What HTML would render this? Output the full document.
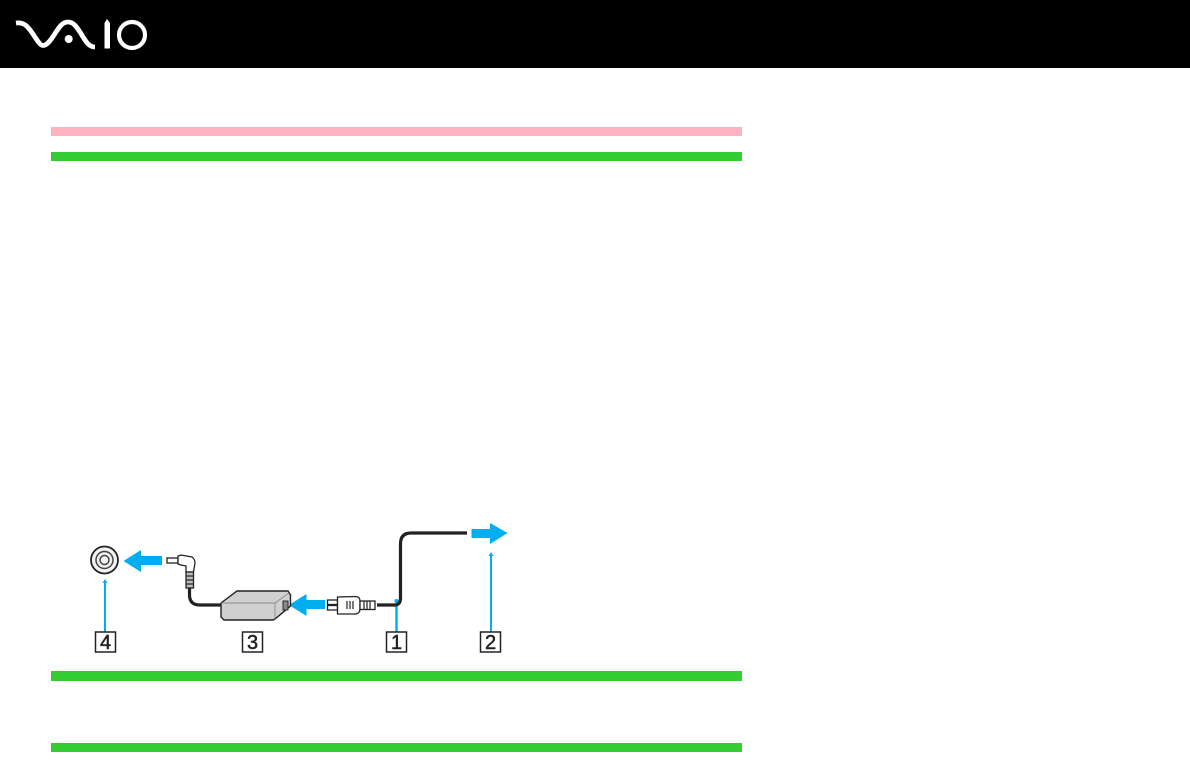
<!DOCTYPE html>
<html>
<head>
<meta charset="utf-8">
<style>
html,body{margin:0;padding:0;background:#fff;}
body{width:1190px;height:767px;overflow:hidden;position:relative;}
svg{position:absolute;left:0;top:0;}
text{font-family:"Liberation Sans",sans-serif;font-size:20px;fill:#222;stroke:#222;stroke-width:0.5px;text-anchor:middle;}
</style>
</head>
<body>
<svg width="1190" height="767" viewBox="0 0 1190 767" xmlns="http://www.w3.org/2000/svg">
<rect x="0" y="0" width="1190" height="68" fill="#000"/>
<!-- logo -->
<path d="M16 23 C25 22 28 27 33 34 C37 40 40 45.500 43 45.500 C47 45.500 51 40 56 32 C60 26 63 22 68 22 C73 22 76 26 80 32 C85 40 88 47 95 47" fill="none" stroke="#fff" stroke-width="4.800"/>
<circle cx="68.700" cy="39" r="4" fill="#fff"/>
<path d="M107 19 L110 23 L110 48.500 L104.500 48.500 L104.500 23 Z" fill="#fff"/>
<circle cx="132" cy="35" r="13" fill="none" stroke="#fff" stroke-width="4.200"/>
<!-- bars -->
<rect x="51" y="127" width="691" height="9" fill="#ffb3c1"/>
<rect x="51" y="152" width="691" height="9" fill="#33cc33"/>
<rect x="51" y="671" width="691" height="10" fill="#33cc33"/>
<rect x="51" y="743" width="691" height="9" fill="#33cc33"/>
<!-- jack -->
<circle cx="104.500" cy="560" r="13.500" fill="#f2f2f2" stroke="#222" stroke-width="1.800"/>
<circle cx="104.500" cy="560" r="8.500" fill="none" stroke="#444" stroke-width="1.500"/>
<circle cx="104.500" cy="560" r="4.500" fill="none" stroke="#444" stroke-width="1.500"/>
<!-- blue arrows -->
<path d="M123.500 561 L141 550 L141 556 L162 556 L162 565 L141 565 L141 572 Z" fill="#00aeef"/>
<path d="M289 605 L306.500 594 L306.500 600 L325 600 L325 609 L306.500 609 L306.500 616 Z" fill="#00aeef"/>
<path d="M507.500 533 L490 523 L490 529 L471.500 529 L471.500 538 L490 538 L490 544 Z" fill="#00aeef"/>
<!-- leader lines -->
<g stroke="#00aeef" stroke-width="2" fill="#00aeef">
<line x1="105" y1="582" x2="105" y2="632"/>
<line x1="491" y1="555" x2="491" y2="632"/>
<line x1="396.500" y1="601" x2="396.500" y2="632" stroke-width="2.400"/>
<path d="M105 579 L102.500 583 L107.500 583 Z" stroke="none"/>
<path d="M491 552 L488.500 556 L493.500 556 Z" stroke="none"/>
<circle cx="396.500" cy="601" r="2" stroke="none"/>
</g>
<!-- cables -->
<path d="M467 533 L411 533 Q400.500 533 400.500 544 L400.500 598 Q400.500 604 396 605 L377 605" fill="none" stroke="#222" stroke-width="3.200"/>
<path d="M189.500 588 L189.500 595 Q189.500 605 200 605 L222 605" fill="none" stroke="#222" stroke-width="3.200"/>
<!-- plug -->
<g fill="#fff" stroke="#222" stroke-width="1.300">
<rect x="327.500" y="600" width="10" height="4.500"/>
<rect x="327.500" y="605.500" width="10" height="4.500"/>
<path d="M337.500 597 L356 596.500 Q360 597 360 601 L360 609 Q360 613 356 614 L337.500 614 Z"/>
<rect x="360" y="601" width="15" height="8.500"/>
</g>
<g stroke="#222" stroke-width="1.200">
<line x1="347" y1="601" x2="347" y2="609"/><line x1="350" y1="601" x2="350" y2="609"/><line x1="353" y1="601" x2="353" y2="609"/>
<line x1="364" y1="601" x2="364" y2="609"/><line x1="367" y1="601" x2="367" y2="609"/><line x1="370" y1="601" x2="370" y2="609"/>
</g>
<!-- L connector -->
<g fill="#fff" stroke="#222" stroke-width="1.300">
<rect x="167" y="558" width="11" height="5"/>
<path d="M178 556 L181 555 L192 557 Q195 559 195 563 L193.500 572 L186 572 L186 566 L181 565 L178 564 Z"/>
<rect x="186" y="572" width="7.500" height="16" fill="#bbb"/>
</g>
<g stroke="#222" stroke-width="1.200">
<line x1="186" y1="576" x2="193.500" y2="576"/><line x1="186" y1="580" x2="193.500" y2="580"/><line x1="186" y1="584" x2="193.500" y2="584"/>
</g>
<!-- adapter -->
<path d="M221 603 L237 591 L288 591 L290.500 595 L290.500 606 L275 619 L273 620 L224 620 L221 617 Z" fill="#d0d0d0" stroke="#222" stroke-width="1.400"/>
<path d="M221 603 L275 603 L289 593" fill="none" stroke="#777" stroke-width="0.700"/>
<path d="M275 603 L275 620" fill="none" stroke="#777" stroke-width="0.700"/>
<rect x="283" y="601" width="5" height="9" fill="#888" stroke="#222" stroke-width="0.900"/>
<!-- labels -->
<g fill="#fff" stroke="#222" stroke-width="1.500">
<rect x="95.500" y="632" width="20" height="20"/>
<rect x="242.500" y="632" width="20" height="20"/>
<rect x="386.500" y="632" width="20" height="20"/>
<rect x="480.500" y="632" width="20" height="20"/>
</g>
<text x="105.500" y="649">4</text>
<text x="252.500" y="649">3</text>
<text x="396.500" y="649">1</text>
<text x="490.500" y="649">2</text>
</svg>
</body>
</html>
